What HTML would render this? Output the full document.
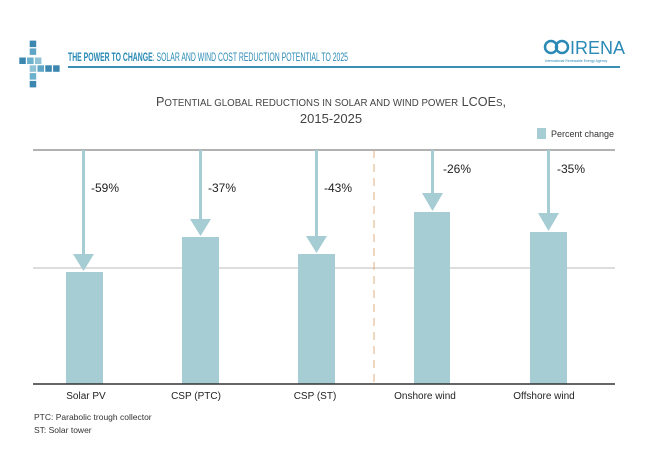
<!DOCTYPE html>
<html><head><meta charset="utf-8"><style>
html,body{margin:0;padding:0;background:#fff;width:662px;height:463px;overflow:hidden}
svg{display:block}
text{font-family:"Liberation Sans",sans-serif}
</style></head><body>
<svg width="662" height="463" viewBox="0 0 662 463">
<!-- logo squares -->
<g fill="#3b87b0" transform="translate(-8,-14) scale(1.3)">
<rect x="29" y="42" width="5" height="5"/><rect x="29" y="48" width="5" height="5" fill="#5fa6c6"/>
<rect x="21" y="55" width="5" height="5"/><rect x="27" y="55" width="5" height="5" fill="#6bb0cc"/><rect x="33" y="55" width="5" height="5" fill="#8fc2d5"/>
<rect x="29" y="61" width="5" height="5" fill="#8fc2d5"/><rect x="35" y="61" width="5" height="5" fill="#5fa6c6"/><rect x="41" y="61" width="5" height="5" fill="#3b87b0"/><rect x="47" y="61" width="5" height="5"/>
<rect x="29" y="67" width="5" height="5" fill="#6bb0cc"/><rect x="29" y="73" width="5" height="5"/>
</g>
<text x="68" y="61" font-size="12" fill="#2a8ab5" textLength="280" lengthAdjust="spacingAndGlyphs"><tspan font-weight="bold">THE POWER TO CHANGE</tspan>: SOLAR AND WIND COST REDUCTION POTENTIAL TO 2025</text>
<line x1="68" y1="67" x2="620" y2="67" stroke="#3a8fb5" stroke-width="2"/>
<circle cx="551" cy="47" r="6" fill="none" stroke="#2a8ab5" stroke-width="2.5"/>
<circle cx="562" cy="47" r="6" fill="none" stroke="#2a8ab5" stroke-width="2.5"/>
<text x="570" y="54" font-size="18" fill="#2a8ab5">IRENA</text>
<text x="545" y="62" font-size="3.5" fill="#2a8ab5">International Renewable Energy Agency</text>
<!-- title -->
<text x="331" y="106" font-size="13" fill="#444" text-anchor="middle" textLength="350" lengthAdjust="spacingAndGlyphs">P<tspan font-size="10">OTENTIAL GLOBAL REDUCTIONS IN SOLAR AND WIND POWER</tspan> LCOE<tspan font-size="10">S</tspan>,</text>
<text x="331" y="123" font-size="13" fill="#444" text-anchor="middle">2015-2025</text>
<rect x="537" y="128" width="9" height="11" fill="#a6cdd3"/>
<text x="551" y="137" font-size="9" fill="#333">Percent change</text>
<!-- grid -->
<line x1="33" y1="150" x2="615" y2="150" stroke="#999" stroke-width="1.5"/>
<line x1="33" y1="268" x2="615" y2="268" stroke="#bbb" stroke-width="1"/>
<line x1="374" y1="150" x2="374" y2="384" stroke="#e0b080" stroke-width="1" stroke-dasharray="8,6"/>
<g fill="#a6cdd3">
<rect x="66" y="272" width="37" height="112"/>
<rect x="182" y="237" width="37" height="147"/>
<rect x="298" y="254" width="37" height="130"/>
<rect x="414" y="212" width="36" height="172"/>
<rect x="530" y="232" width="37" height="152"/>
<rect x="82" y="150" width="3" height="105"/><polygon points="73,254 94,254 83.5,271"/>
<rect x="199" y="150" width="3" height="70"/><polygon points="190,219 211,219 200.5,236"/>
<rect x="315" y="150" width="3" height="87"/><polygon points="306,236 327,236 316.5,253"/>
<rect x="431" y="150" width="3" height="45"/><polygon points="422,193 443,193 432.5,211"/>
<rect x="547" y="150" width="3" height="65"/><polygon points="538,213 559,213 548.5,231"/>
</g>
<g font-size="12" fill="#222">
<text x="91" y="192">-59%</text>
<text x="208" y="192">-37%</text>
<text x="324" y="192">-43%</text>
<text x="443" y="173">-26%</text>
<text x="557" y="173">-35%</text>
</g>
<line x1="33" y1="384" x2="615" y2="384" stroke="#333" stroke-width="1.5"/>
<g font-size="10" fill="#222" text-anchor="middle">
<text x="86" y="399">Solar PV</text>
<text x="196" y="399">CSP (PTC)</text>
<text x="315" y="399">CSP (ST)</text>
<text x="425" y="399">Onshore wind</text>
<text x="544" y="399">Offshore wind</text>
</g>
<text x="34" y="420" font-size="8.5" fill="#333">PTC: Parabolic trough collector</text>
<text x="34" y="433" font-size="8.5" fill="#333">ST: Solar tower</text>
</svg>
</body></html>
